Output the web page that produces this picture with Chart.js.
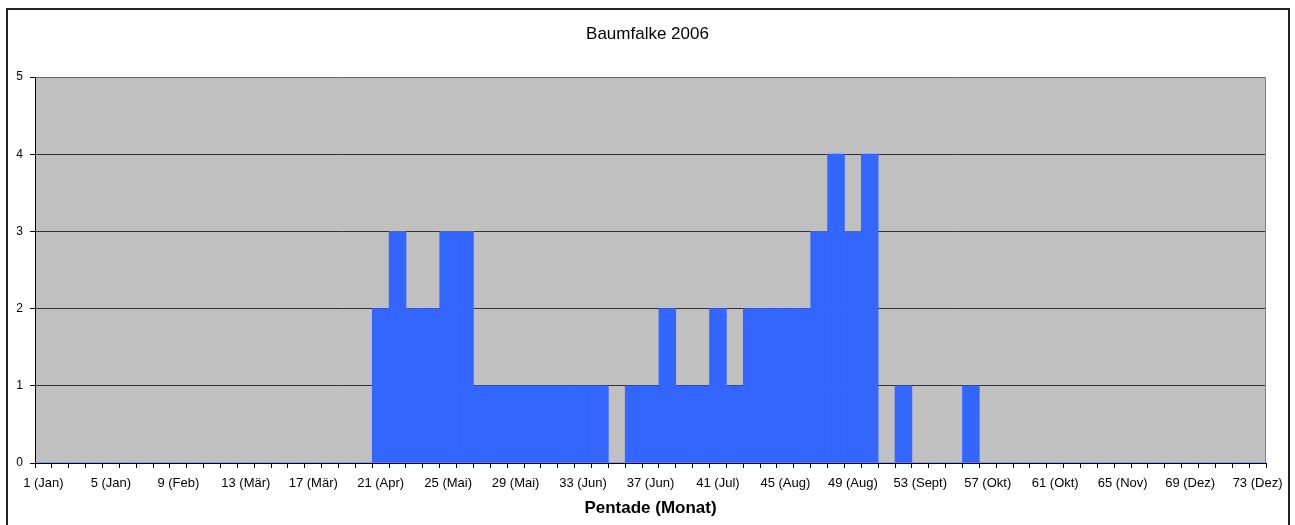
<!DOCTYPE html>
<html>
<head>
<meta charset="utf-8">
<title>Baumfalke 2006</title>
<script src="https://cdn.jsdelivr.net/npm/chart.js@4.4.1/dist/chart.umd.min.js"></script>
<style>
    html, body { margin: 0; padding: 0; background: #fff; }
    #wrap { position: relative; width: 1295px; height: 525px; }
</style>
</head>
<body>
<div id="wrap"><canvas id="chart" width="1295" height="525"></canvas></div>
<script>
// pentades 1..73
const pentades = Array.from({ length: 73 }, (_, i) => String(i + 1));

// labels shown under every 4th pentade
const tickLabels = ['1 (Jan)', '5 (Jan)', '9 (Feb)', '13 (Mär)', '17 (Mär)', '21 (Apr)', '25 (Mai)',
    '29 (Mai)', '33 (Jun)', '37 (Jun)', '41 (Jul)', '45 (Aug)', '49 (Aug)', '53 (Sept)',
    '57 (Okt)', '61 (Okt)', '65 (Nov)', '69 (Dez)', '73 (Dez)'];

// number of observations per pentade
const counts = [
    0, 0, 0, 0, 0, 0, 0, 0, 0, 0,
    0, 0, 0, 0, 0, 0, 0, 0, 0, 0,
    2, 3, 2, 2, 3, 3, 1, 1, 1, 1,
    1, 1, 1, 1, 0, 1, 1, 2, 1, 1,
    2, 1, 2, 2, 2, 2, 3, 4, 3, 4,
    0, 1, 0, 0, 0, 1, 0, 0, 0, 0,
    0, 0, 0, 0, 0, 0, 0, 0, 0, 0,
    0, 0, 0
];

const yTicks = [0, 1, 2, 3, 4, 5];

// grey plot area + outer frame
const backdrop = {
    id: 'backdrop',
    beforeDraw(chart) {
        const { ctx, chartArea: a } = chart;
        ctx.save();
        ctx.fillStyle = '#fff';
        ctx.fillRect(0, 0, chart.width, chart.height);
        ctx.strokeStyle = '#222';
        ctx.lineWidth = 2;
        ctx.strokeRect(7, 9, 1282, 540);
        ctx.fillStyle = '#c0c0c0';
        ctx.fillRect(a.left, a.top, a.right - a.left, a.bottom - a.top);
        ctx.restore();
    },
    afterDatasetsDraw(chart) {
        const { ctx, chartArea: a } = chart;
        ctx.save();
        ctx.strokeStyle = '#808080';
        ctx.lineWidth = 1;
        ctx.beginPath();
        ctx.moveTo(a.right - 0.5, a.top);
        ctx.lineTo(a.right - 0.5, a.bottom);
        ctx.stroke();
        ctx.restore();
    }
};

Chart.defaults.font.family = '"Liberation Sans", Arial, sans-serif';
Chart.defaults.color = '#000';

new Chart(document.getElementById('chart'), {
    type: 'bar',
    data: {
        labels: pentades,
        datasets: [{
            label: 'Baumfalke 2006',
            data: counts,
            backgroundColor: '#3366ff',
            borderWidth: 0,
            barPercentage: 1.0,
            categoryPercentage: 1.0
        }]
    },
    options: {
        responsive: false,
        animation: false,
        devicePixelRatio: 1,
        layout: { padding: 0 },
        plugins: {
            legend: { display: false },
            tooltip: { enabled: false },
            title: {
                display: true,
                text: 'Baumfalke 2006',
                color: '#000',
                font: { size: 17, weight: 'normal' },
                padding: { top: 23.8, bottom: 32.8 }
            }
        },
        scales: {
            x: {
                grid: {
                    offset: true,
                    drawOnChartArea: false,
                    tickLength: 5,
                    tickColor: '#000'
                },
                border: { color: '#000', width: 1 },
                ticks: {
                    autoSkip: false,
                    maxRotation: 0,
                    padding: 8,
                    font: { size: 13 },
                    callback: (v, i) => (i % 4 === 0 ? tickLabels[i / 4] : '')
                },
                title: {
                    display: true,
                    text: 'Pentade (Monat)',
                    font: { size: 17, weight: 'bold' },
                    padding: { top: 2, bottom: 6 }
                },
                afterFit: s => { s.height = 62; }
            },
            y: {
                min: 0,
                max: 5,
                grid: {
                    tickLength: 5,
                    tickColor: '#000',
                    color: c => (c.tick && c.tick.value === 5 ? '#666' : '#333'),
                    lineWidth: 1
                },
                border: { color: '#000', width: 1 },
                afterBuildTicks: s => { s.ticks = yTicks.map(v => ({ value: v })); },
                ticks: {
                    padding: 7,
                    font: { size: 12 }
                },
                afterFit: s => { s.width = 35; }
            },
            // empty right-hand strip so the title stays centred on the page
            yRight: {
                position: 'right',
                min: 0,
                max: 5,
                grid: { display: false },
                border: { display: false },
                ticks: { display: false },
                afterFit: s => { s.width = 29; }
            }
        }
    },
    plugins: [backdrop]
});
</script>
</body>
</html>
